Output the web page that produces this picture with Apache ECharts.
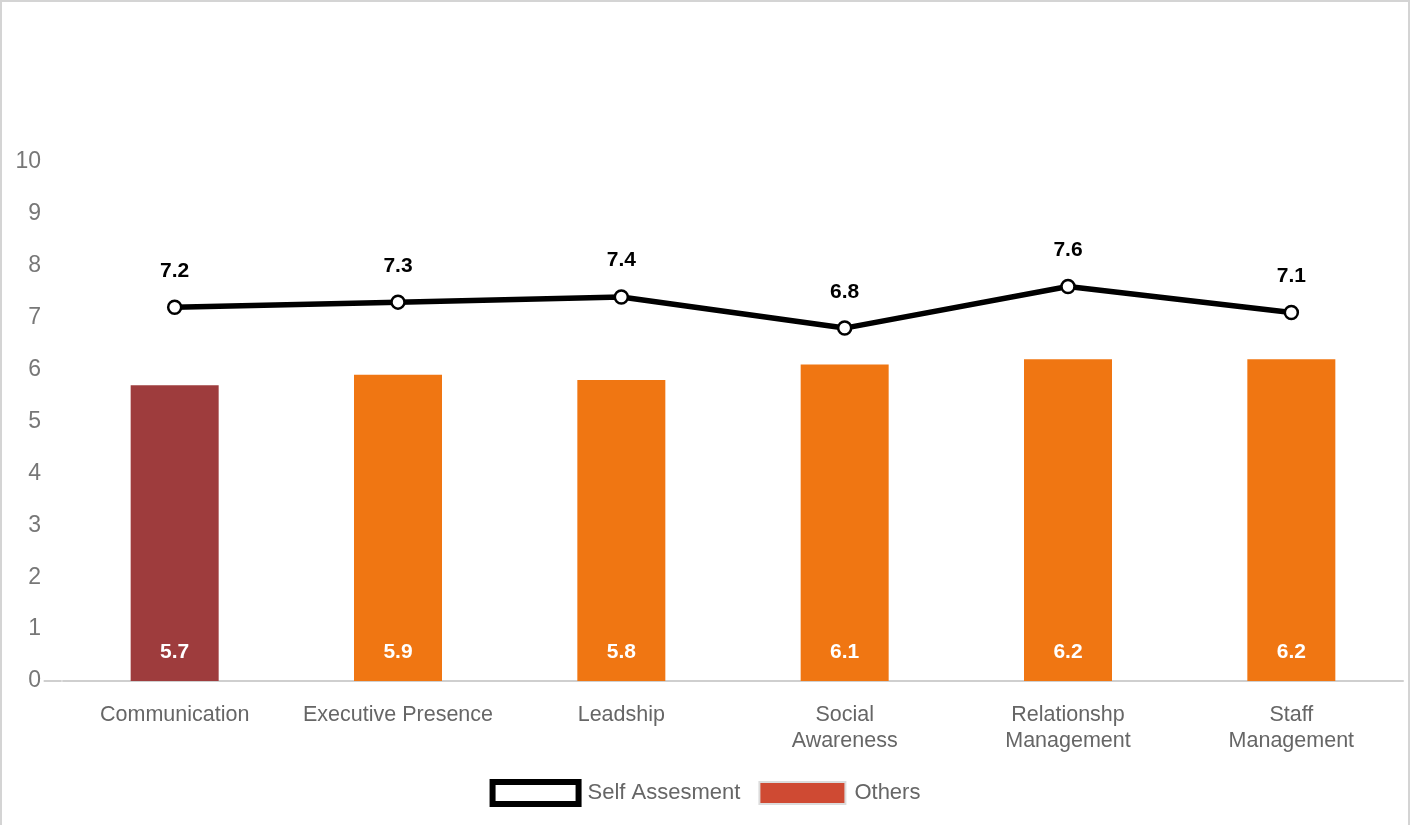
<!DOCTYPE html>
<html>
<head>
<meta charset="utf-8">
<title>Self Assesment vs Others</title>
<script src="https://cdn.jsdelivr.net/npm/echarts@6/dist/echarts.min.js"></script>
<style>
  html, body { margin: 0; padding: 0; background: #fff; }
  #frame {
    position: absolute; left: 0; top: 0; width: 1406px; height: 823px;
    border-top: 2px solid #d4d4d4; border-left: 2px solid #d4d4d4; border-right: 2px solid #d4d4d4;
  }
  #chart { position: absolute; left: 0; top: 0; width: 1410px; height: 825px; }
</style>
</head>
<body>
<div id="frame"></div>
<div id="chart"></div>
<script>
// Competency areas and scores
const categories = ['Communication', 'Executive Presence', 'Leadship', 'Social\nAwareness', 'Relationshp\nManagement', 'Staff\nManagement'];
const selfScores = [7.2, 7.3, 7.4, 6.8, 7.6, 7.1];
const otherScores = [5.7, 5.9, 5.8, 6.1, 6.2, 6.2];
const yTicks = [0, 1, 2, 3, 4, 5, 6, 7, 8, 9, 10];

const FONT = '"Liberation Sans", Arial, sans-serif';
const highlightColor = '#9e3c3d';
const barColor = '#f07612';

const chart = echarts.init(document.getElementById('chart'), null, { renderer: 'canvas' });

const option = {
  animation: false,
  textStyle: { fontFamily: FONT },
  grid: { left: 63, right: 7, top: 162, bottom: 144, containLabel: false },
  legend: {
    bottom: 13,
    left: 'center',
    itemWidth: 86,
    itemHeight: 22,
    itemGap: 18,
    textStyle: { fontSize: 22, color: '#666', fontFamily: FONT, padding: [0, 0, 0, 4] },
    data: [
      { name: 'Self Assesment', icon: 'rect', itemStyle: { color: '#fff', borderColor: '#000', borderWidth: 6 } },
      { name: 'Others', icon: 'rect', itemStyle: { color: '#cf4a33', borderColor: '#dcdcdc', borderWidth: 2 } }
    ]
  },
  xAxis: {
    type: 'category',
    data: categories,
    axisLine: { show: true, lineStyle: { color: '#cfcfcf', width: 2 } },
    axisTick: { show: false },
    axisLabel: { fontSize: 21.5, color: '#666', lineHeight: 26, margin: 21, interval: 0 }
  },
  yAxis: {
    type: 'value',
    min: yTicks[0],
    max: yTicks[yTicks.length - 1],
    interval: 1,
    axisLine: { show: false },
    axisTick: { show: false },
    splitLine: { show: false },
    axisLabel: { fontSize: 23, color: '#777', margin: 22 }
  },
  series: [
    {
      name: 'Others',
      type: 'bar',
      data: otherScores.map((v, i) => ({
        value: v,
        itemStyle: { color: i === 0 ? highlightColor : barColor }
      })),
      barWidth: 88,
      itemStyle: { color: '#cf4a33' },
      label: {
        show: true,
        position: 'insideBottom',
        distance: 18,
        color: '#fff',
        fontWeight: 'bold',
        fontSize: 21,
        formatter: p => p.value.toFixed(1)
      },
      z: 2
    },
    {
      name: 'Self Assesment',
      type: 'line',
      data: selfScores,
      symbol: 'circle',
      symbolSize: 13,
      lineStyle: { color: '#000', width: 5.5 },
      itemStyle: { color: '#fff', borderColor: '#000', borderWidth: 2.5 },
      label: {
        show: true,
        position: 'top',
        distance: 18,
        color: '#000',
        fontWeight: 'bold',
        fontSize: 21,
        formatter: p => p.value.toFixed(1)
      },
      z: 3
    }
  ]
};

chart.setOption(option);

// Short baseline stub extending the axis line to the left of the first category
const y0 = chart.convertToPixel({ yAxisIndex: 0 }, 0);
const xStart = chart.convertToPixel({ xAxisIndex: 0 }, 0) - 112;
chart.setOption({
  graphic: [{
    type: 'line',
    shape: { x1: xStart - 19, y1: y0, x2: xStart - 1, y2: y0 },
    style: { stroke: '#cfcfcf', lineWidth: 2 }
  }]
});
</script>
</body>
</html>
